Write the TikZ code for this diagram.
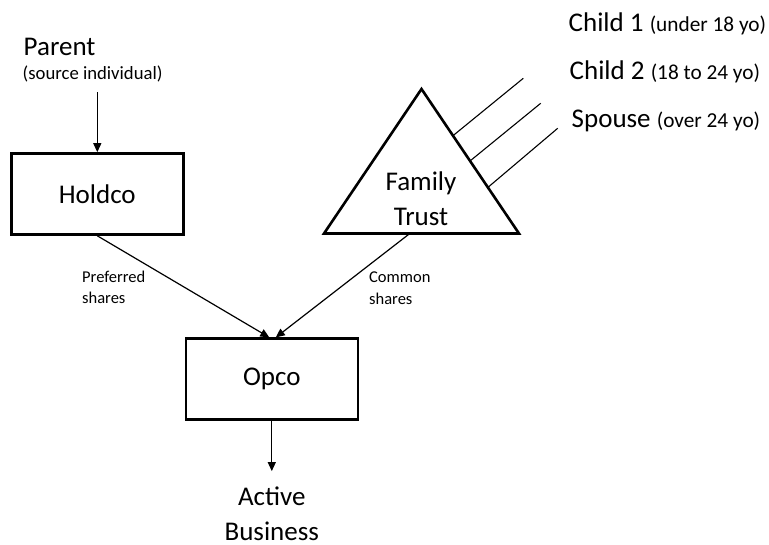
\documentclass[tikz,border=0pt]{standalone}
\usepackage{fontspec}
\setmainfont{Carlito}
\usetikzlibrary{arrows.meta,calc}
\newcommand\bigsz{\fontsize{27}{34.5}\selectfont}
\newcommand\smallsz{\fontsize{18.7}{22}\selectfont}
\newcommand\agesz{\fontsize{21.3}{24}\selectfont}
\newcommand\labelsz{\fontsize{16.5}{21.3}\selectfont}
\begin{document}
\begin{tikzpicture}[x=1pt,y=-1pt,
  bigtext/.style={font=\bigsz,inner sep=0pt},
  smalltext/.style={font=\smallsz,inner sep=0pt},
  labeltext/.style={font=\labelsz,inner sep=0pt,align=left,anchor=north west},
  entity/.style={draw,line width=2.6pt,minimum width=172pt,minimum height=81pt,inner sep=0pt,font=\bigsz},
  link/.style={line width=1.2pt,-{Triangle[length=9pt,width=8pt]}},
  stake/.style={line width=1.1pt},
  member/.style={anchor=base west,inner sep=0pt,font=\bigsz},
  ]
\useasboundingbox (0,0) rectangle (769,545);

% corporations
\node[entity] (holdco) at (97.3,194) {Holdco};
\node[entity] (opco) at (271.8,379.2) {\raisebox{-1.2pt}{Opco}};

% source individual
\node[bigtext,anchor=base west] (parent) at (23.5,55.5) {Parent};
\node[smalltext,anchor=base west] (source) at (22.5,79.5) {(source individual)};
\coordinate (parentout) at ([yshift=-10pt]holdco.north |- source.south);
\draw[link] (parentout) -- (holdco.north);

% family trust
\coordinate (apex) at (421.5,89);
\coordinate (bl) at (324,233.5);
\coordinate (br) at (519,233.5);

% beneficiaries
\coordinate (e1) at ($(apex)!0.323!(br)$);
\coordinate (e2) at ($(apex)!0.498!(br)$);
\coordinate (e3) at ($(apex)!0.681!(br)$);
\coordinate (t1) at (523.3,78.3);
\coordinate (t2) at (540.7,103.3);
\coordinate (t3) at (557.7,128.3);
\draw[stake] (e1) -- (t1);
\draw[stake] (e2) -- (t2);
\draw[stake] (e3) -- (t3);

\draw[line width=2.6pt,line join=miter] (apex) -- (br) -- (bl) -- cycle;
\node[bigtext,align=center] (trust) at (421,198.5) {Family\\Trust};

\node[member] (child1) at (568.5,31.5) {Child 1 {\agesz(under 18 yo)}};
\node[member] (child2) at (569.5,80) {Child 2 {\agesz(18 to 24 yo)}};
\node[member] (spouse) at (571.5,127.3) {Spouse {\agesz(over 24 yo)}};

% shareholdings
\coordinate (trustout) at ($(bl)!0.44!(br)$);
\draw[link] (holdco.south) -- ([xshift=-2.5pt]opco.north);
\draw[link] (trustout) -- ([xshift=4pt]opco.north);
\node[labeltext] (pref) at (82,271) {Preferred\\shares};
\node[labeltext] (common) at (369,271.8) {Common\\shares};

% operating business
\node[bigtext,align=center] (business) at (271.8,514) {Active\\Business};
\coordinate (bizin) at ($(business.north)+(0,-16)$);
\draw[link] (opco.south) -- (bizin);
\end{tikzpicture}
\end{document}
